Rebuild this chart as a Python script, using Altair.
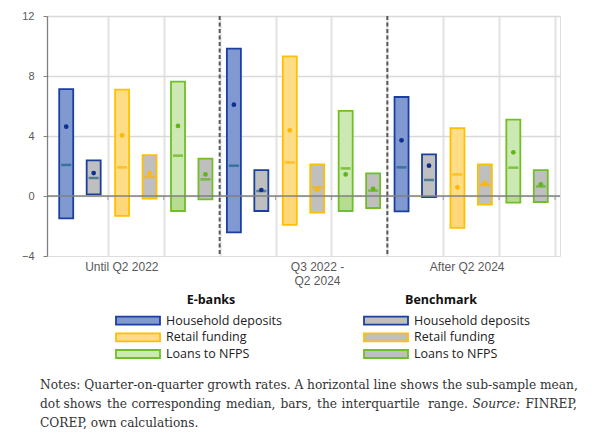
import altair as alt
import pandas as pd

# ---------------- data ----------------
groups = ["Until Q2 2022", "Q3 2022 - Q2 2024", "After Q2 2024"]
group_labels = ["Until Q2 2022", "Q3 2022 -\nQ2 2024", "After Q2 2024"]
variables = ["Household deposits", "Retail funding", "Loans to NFPS"]

# order: group 1 (HD, RF, Loans), group 2 (...), group 3 (...)
e_q3 = [7.13, 7.09, 7.62, 9.82, 9.31, 5.67, 6.60, 4.53, 5.09]
e_q1 = [-1.49, -1.33, -1.00, -2.42, -1.93, -1.00, -1.02, -2.13, -0.44]
e_mean = [2.07, 1.91, 2.69, 2.02, 2.24, 1.84, 1.91, 1.44, 1.89]
e_median = [4.62, 4.04, 4.67, 6.09, 4.38, 1.44, 3.71, 0.58, 2.91]

b_q3 = [2.38, 2.73, 2.49, 1.73, 2.11, 1.51, 2.78, 2.11, 1.73]
b_q1 = [0.11, -0.18, -0.22, -1.00, -1.11, -0.80, -0.07, -0.58, -0.40]
b_mean = [1.20, 1.27, 1.11, 0.33, 0.58, 0.36, 1.07, 0.73, 0.64]
b_median = [1.53, 1.53, 1.44, 0.40, 0.44, 0.47, 2.02, 0.87, 0.78]

y_ticks = [-4, 0, 4, 8, 12]
slot_edges = list(range(1, 10))
separators = [3, 6]

legend_titles = ["E-banks", "Benchmark"]
note_line1 = "Notes: Quarter-on-quarter growth rates. A horizontal line shows the sub-sample mean,"
note_line2 = ["dot", "shows", "the", "corresponding", "median,", "bars,", "the",
              "interquartile", "range.", "Source:", "FINREP,"]
note_line3 = "COREP, own calculations."

# ---------------- styles ----------------
W, H = 513, 240
BAR = 14
OFF = 0.2456
e_fill_up = ["#8099d1", "#ffdd86", "#cde9b3"]
e_fill_low = ["#8099d1", "#ffd779", "#b6dc92"]
border = ["#1a3fa0", "#ffc000", "#6fbf25"]
mean_col = ["#1f6283", "#ffb300", "#5db20f"]
med_col = ["#0c2f90", "#ffb700", "#5fb617"]
GREY = "#bfbfbf"
AX = "#808080"
SANS = "Liberation Sans"
LEG = "Open Sans"
SERIF = "DejaVu Serif"
NOTE_SIZE = 12.2

rows = []
for gi, g in enumerate(groups):
    for vi, v in enumerate(variables):
        k = gi * 3 + vi
        for bank, q1, q3, mn, md, off in [
            ("E-banks", e_q1[k], e_q3[k], e_mean[k], e_median[k], -OFF),
            ("Benchmark", b_q1[k], b_q3[k], b_mean[k], b_median[k], OFF),
        ]:
            rows.append(dict(group=g, variable=v, bank=bank, pos=k + 0.5 + off,
                             q1=q1, q3=q3, mean=mn, median=md,
                             up_lo=max(q1, 0.0), low_hi=min(q3, 0.0)))
df = pd.DataFrame(rows)
e_df = df[df.bank == "E-banks"]
b_df = df[df.bank == "Benchmark"]

xscale = alt.Scale(domain=[0, 9], nice=False, zero=False)
yscale = alt.Scale(domain=[-4, 12], nice=False, zero=False)
xaxis = alt.Axis(values=slot_edges, grid=True, labels=False, ticks=False, domain=False,
                 title=None, gridColor="#e2e2e2", gridWidth=2)
yaxis = alt.Axis(values=y_ticks, title=None, grid=True, gridColor="#d9d9d9", gridWidth=1.3,
                 gridOpacity={"condition": {"test": "datum.value == -4", "value": 0}, "value": 1},
                 domainColor=AX, domainWidth=1.3, tickColor=AX, tickSize=4, labelPadding=9,
                 labelFont=SANS, labelFontSize=11, labelColor="#595959")


def X(field="pos"):
    return alt.X(f"{field}:Q", scale=xscale, axis=xaxis)


def Y(field):
    return alt.Y(f"{field}:Q", scale=yscale, axis=yaxis)


def vscale(rng):
    return alt.Scale(domain=variables, range=rng)


one = pd.DataFrame({"k": [0]})

e_up = alt.Chart(e_df).mark_bar(size=BAR, strokeWidth=0).encode(
    x=X(), y=Y("q3"), y2="up_lo:Q",
    fill=alt.Fill("variable:N", scale=vscale(e_fill_up), legend=None))
e_low = alt.Chart(e_df[e_df.q1 < 0]).mark_bar(size=BAR, strokeWidth=0).encode(
    x=X(), y=Y("q1"), y2="low_hi:Q",
    fill=alt.Fill("variable:N", scale=vscale(e_fill_low), legend=None))
e_out = alt.Chart(e_df).mark_bar(size=BAR, fillOpacity=0, strokeWidth=1.8).encode(
    x=X(), y=Y("q3"), y2="q1:Q",
    stroke=alt.Stroke("variable:N", scale=vscale(border), legend=None))
b_bar = alt.Chart(b_df).mark_bar(size=BAR, fill=GREY, strokeWidth=1.8).encode(
    x=X(), y=Y("q3"), y2="q1:Q",
    stroke=alt.Stroke("variable:N", scale=vscale(border), legend=None))

zero = alt.Chart(one).mark_rule(color=AX, strokeWidth=1.5).encode(y=alt.datum(0))
edge_ticks = alt.Chart(pd.DataFrame({"e": slot_edges})).mark_tick(
    orient="vertical", size=4, thickness=1, yOffset=2, color=AX).encode(
    x=X("e"), y=alt.datum(0))
seps = alt.Chart(pd.DataFrame({"s": separators})).mark_rule(
    color="#595959", strokeWidth=2, strokeDash=[4, 2.5]).encode(x=X("s"))

means = alt.Chart(df).mark_tick(orient="horizontal", size=10, thickness=2.5).encode(
    x=X(), y=Y("mean"),
    color=alt.Color("variable:N", scale=vscale(mean_col), legend=None))
medians = alt.Chart(df).mark_circle(size=22, opacity=1).encode(
    x=X(), y=Y("median"),
    color=alt.Color("variable:N", scale=vscale(med_col), legend=None))

layers = [e_up, e_low, e_out, b_bar, zero, edge_ticks, seps, means, medians]

# group labels under the plot
label_dx = [-14, 14, -4]
for gi, lab in enumerate(group_labels):
    layers.append(alt.Chart(one).mark_text(
        align="center", baseline="top", font=SANS, fontSize=12, color="#595959",
        lineBreak="\n", lineHeight=14, dx=label_dx[gi]).encode(
        x=alt.datum(gi * 3 + 1.5), y=alt.value(H + 6), text=alt.value(lab)))

# legend
leg_x = [69, 317]
title_x = [164, 394]
row_y = [304.7, 321.3, 338.0]
for ci, t in enumerate(legend_titles):
    layers.append(alt.Chart(one).mark_text(
        align="center", baseline="middle", font=LEG, fontSize=12.5, fontWeight="bold",
        color="#111111").encode(x=alt.value(title_x[ci]), y=alt.value(284), text=alt.value(t)))
    for vi, v in enumerate(variables):
        fillc = e_fill_up[vi] if ci == 0 else GREY
        layers.append(alt.Chart(one).mark_rect(
            fill=fillc, stroke=border[vi], strokeWidth=1.8).encode(
            x=alt.value(leg_x[ci]), x2=alt.value(leg_x[ci] + 44),
            y=alt.value(row_y[vi] - 4), y2=alt.value(row_y[vi] + 4)))
        layers.append(alt.Chart(one).mark_text(
            align="left", baseline="middle", font=LEG, fontSize=12.5, color="#222222").encode(
            x=alt.value(leg_x[ci] + 50), y=alt.value(row_y[vi]), text=alt.value(v)))

# notes
NOTE_C = "#333333"
layers.append(alt.Chart(one).mark_text(
    align="left", baseline="middle", font=SERIF, fontSize=NOTE_SIZE, color=NOTE_C).encode(
    x=alt.value(-7), y=alt.value(369), text=alt.value(note_line1)))
word_x = [40, 63.5, 107, 131.5, 226, 280.5, 317, 341.5, 428, 472.5, 577]
for wi, w in enumerate(note_line2):
    last = wi == len(note_line2) - 1
    layers.append(alt.Chart(one).mark_text(
        align="right" if last else "left", baseline="middle", font=SERIF, fontSize=NOTE_SIZE,
        color=NOTE_C, fontStyle="italic" if w == "Source:" else "normal").encode(
        x=alt.value(word_x[wi] - 47), y=alt.value(388), text=alt.value(w)))
layers.append(alt.Chart(one).mark_text(
    align="left", baseline="middle", font=SERIF, fontSize=NOTE_SIZE, color=NOTE_C).encode(
    x=alt.value(-7), y=alt.value(407), text=alt.value(note_line3)))

chart = alt.layer(*layers).resolve_scale(
    fill="independent", stroke="independent", color="independent"
).properties(
    width=W, height=H,
    padding={"left": 39, "top": 8, "right": 42, "bottom": 173},
    autosize=alt.AutoSizeParams(type="none"),
).configure_view(stroke=None).configure(background="white")

chart.save("out.html", embed_options={"renderer": "svg", "actions": False})
